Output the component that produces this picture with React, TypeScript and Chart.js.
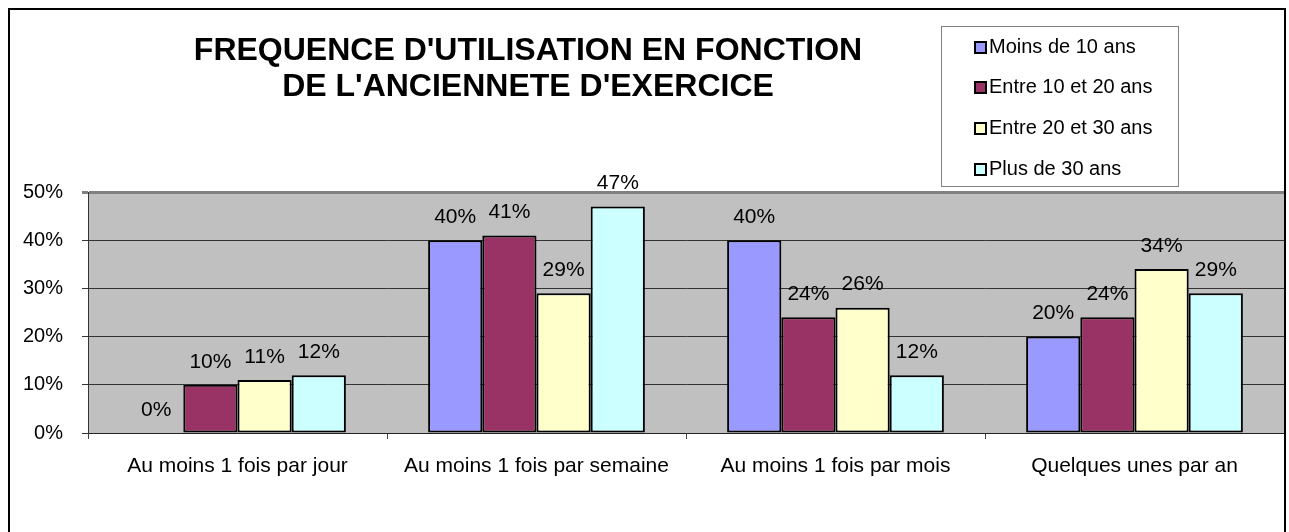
import React, { useEffect, useRef } from 'react';
import { Chart, registerables } from 'chart.js';

Chart.register(...registerables);

const categories = [
  'Au moins 1 fois par jour',
  'Au moins 1 fois par semaine',
  'Au moins 1 fois par mois',
  'Quelques unes par an',
];
const seriesLabels = ['Moins de 10 ans', 'Entre 10 et 20 ans', 'Entre 20 et 30 ans', 'Plus de 30 ans'];
const moinsDe10 = [0, 40, 40, 20];
const entre10et20 = [10, 41, 24, 24];
const entre20et30 = [11, 29, 26, 34];
const plusDe30 = [12, 47, 12, 29];
const seriesColors = ['#9999FF', '#993366', '#FFFFCC', '#CCFFFF'];
const yMin = 0;
const yMax = 50;
const yStep = 10;
const titleLines = ["FREQUENCE D'UTILISATION EN FONCTION", "DE L'ANCIENNETE D'EXERCICE"];

const FONT = "'Liberation Sans', Arial, Helvetica, sans-serif";
const CANVAS_W = 1274;
const CANVAS_H = 522;

const plotBg = {
  id: 'plotBg',
  beforeDraw(chart: any) {
    const { ctx, chartArea } = chart;
    ctx.save();
    ctx.fillStyle = '#C0C0C0';
    ctx.fillRect(chartArea.left, chartArea.top, chartArea.right - chartArea.left, chartArea.bottom - chartArea.top);
    ctx.restore();
  },
};

const dataLabels = {
  id: 'dataLabels',
  afterDatasetsDraw(chart: any) {
    const { ctx } = chart;
    ctx.save();
    ctx.font = `21px ${FONT}`;
    ctx.fillStyle = '#000';
    ctx.textAlign = 'center';
    ctx.textBaseline = 'middle';
    chart.data.datasets.forEach((ds: any, i: number) => {
      const meta = chart.getDatasetMeta(i);
      meta.data.forEach((bar: any, j: number) => {
        ctx.fillText(`${ds.data[j]}%`, bar.x, bar.y - 23);
      });
    });
    ctx.restore();
  },
};

const titleAndLegend = {
  id: 'titleAndLegend',
  afterDraw(chart: any) {
    const { ctx } = chart;
    ctx.save();
    // title
    ctx.font = `bold 32px ${FONT}`;
    ctx.fillStyle = '#000';
    ctx.textAlign = 'center';
    ctx.textBaseline = 'middle';
    titleLines.forEach((line, i) => {
      ctx.fillText(line, 518, 41 + i * 36);
    });
    // legend box
    const bx = 931, by = 16, bw = 238, bh = 161;
    ctx.fillStyle = '#FFFFFF';
    ctx.fillRect(bx, by, bw, bh);
    ctx.strokeStyle = '#808080';
    ctx.lineWidth = 1;
    ctx.strokeRect(bx + 0.5, by + 0.5, bw - 1, bh - 1);
    ctx.font = `20px ${FONT}`;
    ctx.textAlign = 'left';
    ctx.textBaseline = 'middle';
    chart.data.datasets.forEach((ds: any, i: number) => {
      const cy = 37 + i * 40.7;
      const mx = 964, size = 13;
      ctx.fillStyle = '#000';
      ctx.fillRect(mx, Math.round(cy - size / 2), size, size);
      ctx.fillStyle = ds.backgroundColor;
      ctx.fillRect(mx + 2, Math.round(cy - size / 2) + 2, size - 4, size - 4);
      ctx.fillStyle = '#000';
      ctx.fillText(ds.label, 979, cy);
    });
    ctx.restore();
  },
};

export default function App() {
  const ref = useRef<HTMLCanvasElement | null>(null);

  useEffect(() => {
    if (!ref.current) return;
    const seriesData = [moinsDe10, entre10et20, entre20et30, plusDe30];
    const chart = new Chart(ref.current, {
      type: 'bar',
      data: {
        labels: categories,
        datasets: seriesLabels.map((label, i) => ({
          label,
          data: seriesData[i],
          backgroundColor: seriesColors[i],
          borderColor: '#000000',
          borderWidth: 2,
          borderSkipped: false,
          categoryPercentage: 0.725,
          barPercentage: 1,
        })),
      },
      options: {
        responsive: false,
        animation: false,
        layout: { padding: { top: 182, left: 0, right: 0, bottom: 0 } },
        plugins: {
          legend: { display: false },
          title: { display: false },
          tooltip: { enabled: false },
        },
        scales: {
          x: {
            grid: {
              display: true,
              drawOnChartArea: false,
              drawTicks: true,
              tickLength: 6,
              color: '#444444',
              offset: true,
            },
            border: { display: true, color: '#222222', width: 1 },
            ticks: {
              color: '#000',
              padding: 15,
              maxRotation: 0,
              autoSkip: false,
              font: { family: FONT, size: 21 },
            },
            afterFit: (scale: any) => {
              scale.height = CANVAS_H - 423;
            },
          },
          y: {
            min: yMin,
            max: yMax,
            ticks: {
              stepSize: yStep,
              color: '#000',
              padding: 19,
              font: { family: FONT, size: 20 },
              callback: (v: any) => `${v}%`,
            },
            grid: {
              drawTicks: true,
              tickLength: 6,
              color: (c: any) => (c.tick && c.tick.value === yMax ? '#808080' : '#333333'),
              lineWidth: (c: any) => (c.tick && c.tick.value === yMax ? 3 : 1),
            },
            border: { display: true, color: '#333333', width: 1 },
            afterFit: (scale: any) => {
              scale.width = 78;
            },
          },
        },
      },
      plugins: [plotBg, dataLabels, titleAndLegend],
    });
    return () => chart.destroy();
  }, []);

  return (
    <div
      style={{
        position: 'absolute',
        left: 8,
        top: 8,
        width: 1278,
        height: 524,
        border: '2px solid #000',
        borderBottom: 'none',
        boxSizing: 'border-box',
        background: '#fff',
        overflow: 'hidden',
      }}
    >
      <canvas ref={ref} width={CANVAS_W} height={CANVAS_H} style={{ display: 'block' }} />
    </div>
  );
}
